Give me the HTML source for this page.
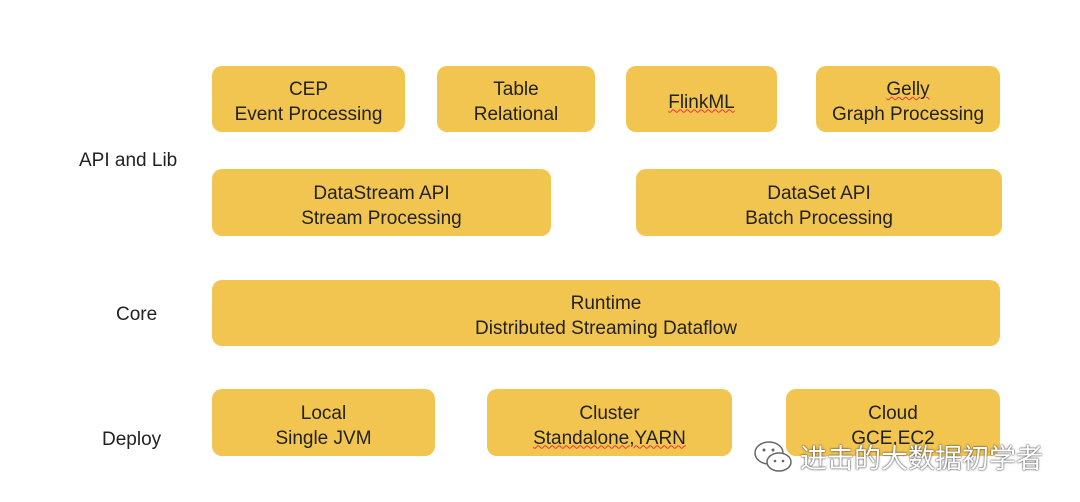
<!DOCTYPE html>
<html><head><meta charset="utf-8"><style>
html,body{margin:0;padding:0;background:#fff;}
body{width:1080px;height:502px;position:relative;overflow:hidden;font-family:"Liberation Sans","Noto Sans CJK SC",sans-serif;color:#222;}
.b{position:absolute;background:#f2c550;border-radius:10px;display:flex;flex-direction:column;align-items:center;justify-content:center;font-size:19px;line-height:25px;text-align:center;box-sizing:border-box;padding-top:6px;}
.l{position:absolute;font-size:19px;}
.u{text-decoration:underline wavy #e33;text-decoration-thickness:1px;}
.wm{position:absolute;left:800px;top:437px;font-size:27px;color:#fff;text-shadow:0 0 2px #444,0 0 1px #444;font-family:"Noto Sans CJK SC",sans-serif;}
</style></head><body>
<div class="l" style="left:79px;top:150px">API and Lib</div>
<div class="l" style="left:116px;top:304px">Core</div>
<div class="l" style="left:102px;top:429px">Deploy</div>

<div class="b" style="left:212px;top:66px;width:193px;height:66px"><div>CEP</div><div>Event Processing</div></div>
<div class="b" style="left:437px;top:66px;width:158px;height:66px"><div>Table</div><div>Relational</div></div>
<div class="b" style="left:626px;top:66px;width:151px;height:66px"><div class="u">FlinkML</div></div>
<div class="b" style="left:816px;top:66px;width:184px;height:66px"><div class="u">Gelly</div><div>Graph Processing</div></div>

<div class="b" style="left:212px;top:169px;width:339px;height:67px"><div>DataStream API</div><div>Stream Processing</div></div>
<div class="b" style="left:636px;top:169px;width:366px;height:67px"><div>DataSet API</div><div>Batch Processing</div></div>

<div class="b" style="left:212px;top:280px;width:788px;height:66px"><div>Runtime</div><div>Distributed Streaming Dataflow</div></div>

<div class="b" style="left:212px;top:389px;width:223px;height:67px"><div>Local</div><div>Single JVM</div></div>
<div class="b" style="left:487px;top:389px;width:245px;height:67px"><div>Cluster</div><div class="u">Standalone,YARN</div></div>
<div class="b" style="left:786px;top:389px;width:214px;height:67px"><div>Cloud</div><div>GCE,EC2</div></div>

<svg style="position:absolute;left:752px;top:438px" width="44" height="40" viewBox="0 0 44 40">
<ellipse cx="17" cy="15" rx="14" ry="11" fill="#fff" stroke="#666" stroke-width="1.5"/>
<ellipse cx="27" cy="24" rx="12" ry="9" fill="#fff" stroke="#666" stroke-width="1.5"/>
<circle cx="12" cy="12" r="1.5" fill="#666"/><circle cx="21" cy="12" r="1.5" fill="#666"/>
<circle cx="23" cy="23" r="1.3" fill="#666"/><circle cx="31" cy="23" r="1.3" fill="#666"/>
</svg>
<div class="wm">进击的大数据初学者</div>
</body></html>
